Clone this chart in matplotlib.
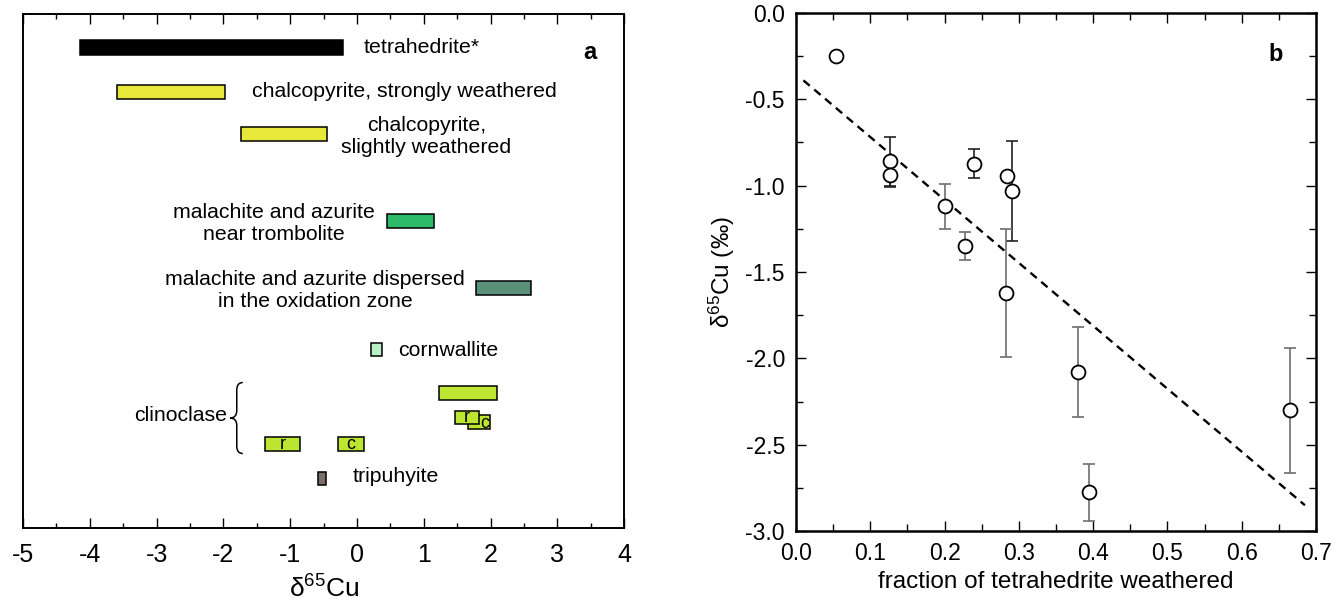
import matplotlib
matplotlib.use('Agg')
import matplotlib.pyplot as plt
from matplotlib.path import Path
from matplotlib.patches import PathPatch, Rectangle
from matplotlib.ticker import MultipleLocator, FormatStrFormatter

plt.rcParams['font.family'] = ['Liberation Sans', 'DejaVu Sans']
plt.rcParams['mathtext.default'] = 'regular'
plt.rcParams['axes.unicode_minus'] = False

# ── Panel a: rangos de d65Cu por mineral ─────────────────────────────────────
minerals = ["tetrahedrite*", "chalcopyrite, strongly weathered",
            "chalcopyrite,\nslightly weathered",
            "malachite and azurite\nnear trombolite",
            "malachite and azurite dispersed\nin the oxidation zone",
            "cornwallite", "clinoclase", "clinoclase c", "clinoclase r",
            "clinoclase r", "clinoclase c", "tripuhyite"]
d65_low = [-4.15, -3.59, -1.74, 0.45, 1.78, 0.21, 1.23, 1.67, 1.47, -1.37, -0.29, -0.59]
d65_high = [-0.21, -1.97, -0.45, 1.16, 2.60, 0.38, 2.09, 1.99, 1.82, -0.85, 0.11, -0.46]
box_tags = ["", "", "", "", "", "", "", "c", "r", "r", "c", ""]

# posiciones verticales (layout) y colores
rows = [0.67, 1.55, 2.40, 4.14, 5.47, 6.71, 7.57, 8.16, 8.07, 8.60, 8.60, 9.29]
bar_h = [0.30, 0.28, 0.28, 0.28, 0.28, 0.27, 0.28, 0.27, 0.27, 0.28, 0.28, 0.27]
colors = ["#000000", "#e8e83a", "#e8e83a", "#2dbb6a", "#5a9078", "#b8f0c8",
          "#bde632", "#bde632", "#bde632", "#bde632", "#bde632", "#7a6e66"]
# desplazamiento de la letra r/c dentro de su caja (la c superior queda tapada)
tag_dx = [0, 0, 0, 0, 0, 0, 0, 0.09, 0, 0, 0, 0]
tag_dy = [0, 0, 0, 0, 0, 0, 0, 0.03, 0, 0, 0, 0]

# etiquetas: (texto, x, fila, alineación)
labels_a = [
    ("tetrahedrite*", 0.10, 0.67, 'left'),
    ("chalcopyrite, strongly weathered", -1.57, 1.55, 'left'),
    ("chalcopyrite,\nslightly weathered", 1.04, 2.45, 'center'),
    ("malachite and azurite\nnear trombolite", -1.25, 4.18, 'center'),
    ("malachite and azurite dispersed\nin the oxidation zone", -0.63, 5.52, 'center'),
    ("cornwallite", 0.61, 6.72, 'left'),
    ("clinoclase", -1.95, 8.02, 'right'),
    ("tripuhyite", -0.06, 9.25, 'left'),
]

# ── Panel b: d65Cu vs fracción de tetraedrita meteorizada ────────────────────
frac = [0.054, 0.127, 0.127, 0.200, 0.228, 0.239, 0.284, 0.291, 0.283, 0.379, 0.394, 0.665]
d65 = [-0.25, -0.86, -0.94, -1.12, -1.35, -0.873, -0.946, -1.033, -1.62, -2.078, -2.777, -2.302]
d65_err = [0.0, 0.14, 0.068, 0.13, 0.08, 0.085, 0.0, 0.29, 0.37, 0.26, 0.165, 0.36]
dark_bars = [1, 2, 5, 7]

fit_intercept = -0.354
fit_slope = -3.645
fit_x = [0.01, 0.685]

fig = plt.figure(figsize=(13.41, 6.07), dpi=100)
ax1 = fig.add_axes([0.0172, 0.1301, 0.4482, 0.8468])
ax2 = fig.add_axes([0.5936, 0.1252, 0.3878, 0.8534])

# ---- a
for k, (lo, hi, r, h, c, tag) in enumerate(zip(d65_low, d65_high, rows, bar_h, colors, box_tags)):
    ax1.add_patch(Rectangle((lo, r - h / 2), hi - lo, h, facecolor=c,
                            edgecolor="black", linewidth=1.1, zorder=3 + k * 0.01))
    if tag:
        ax1.text((lo + hi) / 2 + tag_dx[k], r + tag_dy[k], tag, ha='center',
                 va='center', fontsize=13, zorder=5)

for txt, x, r, ha in labels_a:
    ax1.text(x, r, txt, ha=ha, va='center', fontsize=15.3,
             multialignment='center', linespacing=1.2)

# llave de clinoclase
xr, xm, xl = -1.71, -1.80, -1.90
yt, ymid, yb = 7.37, 8.08, 8.79
verts = [(xr, yt), (xm, yt), (xm, yt + 0.15), (xm, ymid - 0.15),
         (xm, ymid), (xl, ymid), (xm, ymid), (xm, ymid + 0.15),
         (xm, yb - 0.15), (xm, yb), (xr, yb)]
codes = [Path.MOVETO, Path.CURVE3, Path.CURVE3, Path.LINETO,
         Path.CURVE3, Path.CURVE3, Path.CURVE3, Path.CURVE3,
         Path.LINETO, Path.CURVE3, Path.CURVE3]
ax1.add_patch(PathPatch(Path(verts, codes), facecolor='none',
                        edgecolor='black', linewidth=1.1))

ax1.text(3.49, 0.76, "a", ha='center', va='center', fontsize=17, fontweight='bold')

ax1.set_xlim(-5, 4)
ax1.set_ylim(10.28, 0)
ax1.xaxis.set_major_locator(MultipleLocator(1))
ax1.xaxis.set_minor_locator(MultipleLocator(0.5))
ax1.xaxis.set_major_formatter(FormatStrFormatter('%d'))
ax1.set_yticks([])
ax1.tick_params(axis='x', which='both', direction='in', top=True, bottom=True,
                labelsize=18, pad=11, width=1)
ax1.tick_params(axis='x', which='major', length=7)
ax1.tick_params(axis='x', which='minor', length=3.5)
for s in ax1.spines.values():
    s.set_linewidth(1.4)
ax1.set_xlabel("δ$^{65}$Cu", fontsize=19, labelpad=6)

# ---- b
ys_fit = [fit_intercept + fit_slope * x for x in fit_x]
ax2.plot(fit_x, ys_fit, linestyle=(0, (3.5, 2.5)), color='black', linewidth=1.7, zorder=2)

for i, (x, y, e) in enumerate(zip(frac, d65, d65_err)):
    if e > 0:
        ec = '#222222' if i in dark_bars else '#6e6e6e'
        ax2.errorbar(x, y, yerr=e, fmt='none', ecolor=ec, elinewidth=1.2,
                     capsize=4, capthick=1.2, zorder=3)
ax2.plot(frac, d65, 'o', markersize=10, markerfacecolor='white',
         markeredgecolor='black', markeredgewidth=1.3, linestyle='none', zorder=4)

ax2.text(0.645, -0.239, "b", ha='center', va='center', fontsize=17, fontweight='bold')

ax2.set_xlim(0, 0.7)
ax2.set_ylim(-3.0, 0.0)
ax2.xaxis.set_major_locator(MultipleLocator(0.1))
ax2.xaxis.set_minor_locator(MultipleLocator(0.05))
ax2.yaxis.set_major_locator(MultipleLocator(0.5))
ax2.yaxis.set_minor_locator(MultipleLocator(0.25))
ax2.xaxis.set_major_formatter(FormatStrFormatter('%.1f'))
ax2.yaxis.set_major_formatter(FormatStrFormatter('%.1f'))
ax2.tick_params(which='both', direction='in', top=True, right=True,
                labelsize=16.5, width=1)
ax2.tick_params(which='major', length=7.5)
ax2.tick_params(which='minor', length=5)
ax2.tick_params(axis='x', pad=8)
ax2.tick_params(axis='y', pad=8)
for s in ax2.spines.values():
    s.set_linewidth(1.8)
ax2.set_xlabel("fraction of tetrahedrite weathered", fontsize=17.5, labelpad=4)
ax2.set_ylabel("δ$^{65}$Cu (‰)", fontsize=17.5, labelpad=6)

fig.savefig("out.png", dpi=100)
